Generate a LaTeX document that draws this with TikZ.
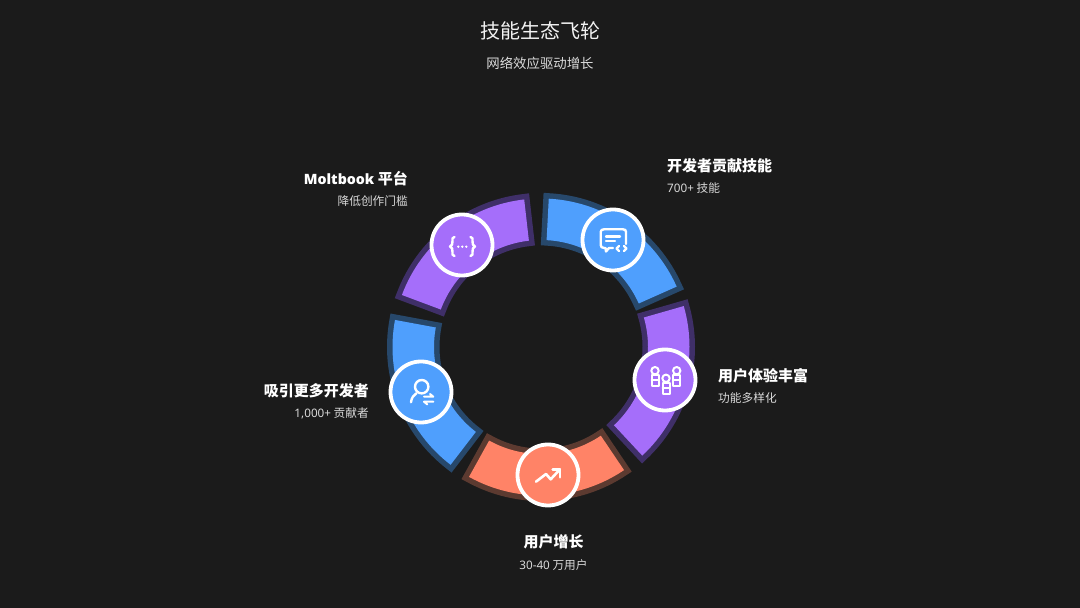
\documentclass[tikz,border=0pt]{standalone}
\usepackage{fontspec}
\setmainfont{Noto Sans CJK SC}
\newfontfamily\lat{Noto Sans}
\newfontfamily\latb{Open Sans}[UprightFont=* Bold]
\definecolor{bgc}{HTML}{1B1B1B}
\definecolor{bluef}{HTML}{4F9FFD}
\definecolor{purf}{HTML}{A56EFA}
\definecolor{orgf}{HTML}{FF8367}
\definecolor{blueb}{HTML}{27486B}
\definecolor{purb}{HTML}{3F2F68}
\definecolor{orgb}{HTML}{5C3A30}
\definecolor{subc}{HTML}{DADADA}
\tikzset{
  x=1pt,y=1pt,
  hub/.style={circle,draw=white,line width=3.8pt,minimum size=61pt,inner sep=0pt},
  glyph/.style={draw=white,line width=2.4pt,line cap=round,line join=round,fill=none},
  head/.style={font=\bfseries\fontsize{15}{17}\selectfont,text=white,inner sep=0pt},
  subt/.style={font=\fontsize{11.7}{14}\selectfont,text=subc,inner sep=0pt},
}
\newcommand{\ringpart}[3]{% start angle from top, fill, border
  \pgfmathsetmacro{\sa}{90-#1}\pgfmathsetmacro{\ea}{90-#1-63}
  \path[fill=#2,draw=#3,line width=11pt,miter limit=10,line join=miter]
    ($(hubc)+(\sa:148.5)$) arc[start angle=\sa,end angle=\ea,radius=148.5]
    -- ($(hubc)+(\ea:107)$) arc[start angle=\ea,end angle=\sa,radius=107] -- cycle;
  \path[fill=#2]
    ($(hubc)+(\sa:148.5)$) arc[start angle=\sa,end angle=\ea,radius=148.5]
    -- ($(hubc)+(\ea:107)$) arc[start angle=\ea,end angle=\sa,radius=107] -- cycle;
}
\usetikzlibrary{calc}
\begin{document}
\begin{tikzpicture}
\path[use as bounding box,fill=bgc] (0,0) rectangle (1080,608);
\coordinate (hubc) at (541,261);
\ringpart{3}{bluef}{blueb}
\ringpart{74}{purf}{purb}
\ringpart{146}{orgf}{orgb}
\ringpart{217.5}{bluef}{blueb}
\ringpart{290.5}{purf}{purb}

\node[hub,fill=bluef] (i1) at (613,368) {};
\node[hub,fill=purf] (i2) at (665,228) {};
\node[hub,fill=orgf] (i3) at (548,133) {};
\node[hub,fill=bluef] (i4) at (421,216) {};
\node[hub,fill=purf] (i5) at (462,363) {};

% icon 1: chat bubble with code
\begin{scope}[shift={(i1.center)},yscale=-1]
\draw[glyph] (0,8) -- (-4,8) -- (-7,11.5) -- (-7.5,8) -- (-9,8) .. controls (-11,8) and (-12.3,6.7) .. (-12.3,5)
  -- (-12.3,-8) .. controls (-12.3,-9.7) and (-11,-10.7) .. (-9,-10.7) -- (10,-10.7)
  .. controls (12,-10.7) and (13,-9.7) .. (13,-8) -- (13,4);
\draw[glyph] (-7,-3.4) -- (7,-3.4);
\draw[glyph] (-7,1) -- (2,1);
\draw[glyph] (6,6) -- (3.5,8.5) -- (6,11);
\draw[glyph] (11,6) -- (13.5,8.5) -- (11,11);
\end{scope}

% icon 2: three figures
\begin{scope}[shift={(i2.center)},yscale=-1]
\foreach \px/\py in {-10/-9.3,11.7/-9.3,1/-1.7}{
  \draw[glyph,line width=2pt] (\px,\py) circle[radius=3.7];
  \draw[glyph,line width=2pt] ($(\px,\py)+(-3.5,4.8)$) rectangle ($(\px,\py)+(3.5,15.8)$);
  \draw[glyph,line width=2pt] ($(\px,\py)+(-3.5,9.8)$) -- ($(\px,\py)+(3.5,9.8)$);
}
\end{scope}

% icon 3: trending up
\begin{scope}[shift={(i3.center)},yscale=-1]
\draw[glyph,line width=2.6pt] (-12,6.7) -- (-2,-1) -- (2.7,4.3) -- (12,-5.7);
\draw[glyph,line width=2.6pt] (4.7,-5.7) -- (12,-5.7) -- (12,2.3);
\end{scope}

% icon 4: user with swap arrows
\begin{scope}[shift={(i4.center)},yscale=-1]
\draw[glyph] (0.7,-5.3) circle[radius=6.7];
\draw[glyph] (-10,10.3) .. controls (-9.5,6) and (-7.5,3) .. (-4.5,1.2);
\draw[glyph,line width=2pt] (3,4.7) -- (12.3,4.7) -- (9,2);
\draw[glyph,line width=2pt] (12.3,9.7) -- (3,9.7) -- (6.3,12.4);
\end{scope}

% icon 5: braces with dots
\begin{scope}[shift={(i5.center)},yscale=-1]
\draw[glyph] (-7.5,-8) .. controls (-10,-8) and (-9.5,-6) .. (-9.5,-4) .. controls (-9.5,-1.5) and (-9.7,1) .. (-12,1.5)
  .. controls (-9.7,2) and (-9.5,4.5) .. (-9.5,7) .. controls (-9.5,9) and (-10,11) .. (-7.5,11);
\draw[glyph] (8.5,-8) .. controls (11,-8) and (10.5,-6) .. (10.5,-4) .. controls (10.5,-1.5) and (10.7,1) .. (13,1.5)
  .. controls (10.7,2) and (10.5,4.5) .. (10.5,7) .. controls (10.5,9) and (11,11) .. (8.5,11);
\foreach \dx in {-3.7,0.3,4.3}\fill[white] (\dx,1.7) circle[radius=1.3];
\end{scope}

% texts
\node[inner sep=0pt,text=white!95!black,font=\fontsize{20}{24}\selectfont] (title) at (540,577) {技能生态飞轮};
\node[inner sep=0pt,text=subc,font=\fontsize{13.4}{16}\selectfont] (subtitle) at (540,545) {网络效应驱动增长};

\node[head,anchor=west] (h1) at (667,442) {开发者贡献技能};
\node[subt,anchor=west] (s1) at (667,420) {{\lat 700+} 技能};
\node[head,anchor=west] (h2) at (718,232) {用户体验丰富};
\node[subt,anchor=west] (s2) at (718,210) {功能多样化};
\node[head] (h3) at (553.5,66) {用户增长};
\node[subt] (s3) at (553.5,43) {{\lat 30-40} 万用户};
\node[head,anchor=east] (h4) at (369,217) {吸引更多开发者};
\node[subt,anchor=east] (s4) at (369,195) {{\lat 1,000+} 贡献者};
\node[head,anchor=east] (h5) at (408,429) {{\latb\fontsize{14.2}{17}\selectfont Moltbook} 平台};
\node[subt,anchor=east] (s5) at (408,407) {降低创作门槛};
\end{tikzpicture}
\end{document}
